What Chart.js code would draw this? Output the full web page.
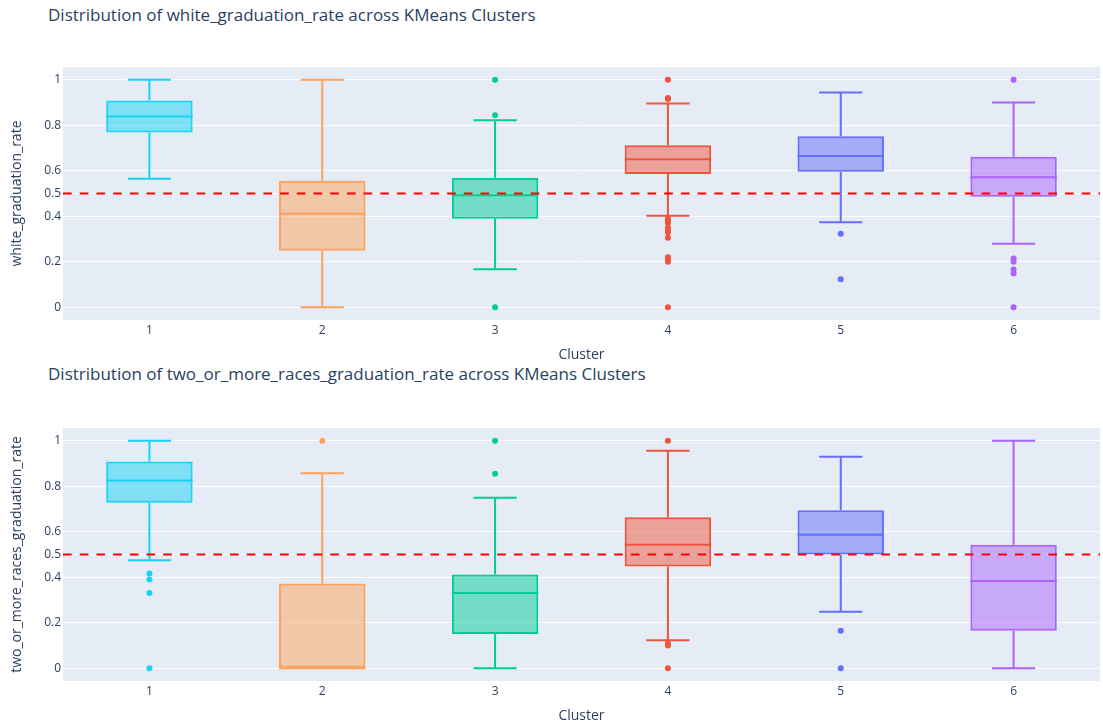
<!DOCTYPE html>
<html>
<head>
<meta charset="utf-8">
<script src="https://cdn.jsdelivr.net/npm/chart.js@4.4.1/dist/chart.umd.min.js"></script>
<style>
  html, body { margin: 0; padding: 0; background: #ffffff; }
  body { width: 1103px; height: 722px; position: relative; overflow: hidden; font-family: "Open Sans", "DejaVu Sans", sans-serif; }
  .title { position: absolute; left: 48px; font-size: 17px; line-height: 20px; color: #2a3f5f; white-space: nowrap; }
  .wrap { position: absolute; left: 0; width: 1103px; height: 361px; }
</style>
</head>
<body>
<div class="title" style="top:5px;">Distribution of white_graduation_rate across KMeans Clusters</div>
<div class="title" style="top:364px;">Distribution of two_or_more_races_graduation_rate across KMeans Clusters</div>
<div class="wrap" style="top:0px;"><canvas id="c1" width="1103" height="361"></canvas></div>
<div class="wrap" style="top:361px;"><canvas id="c2" width="1103" height="361"></canvas></div>
<script>
// ---------- data ----------
const categories = ['1', '2', '3', '4', '5', '6'];
const yTickValues = [0, 0.2, 0.4, 0.5, 0.6, 0.8, 1];
const referenceLine = 0.5;
const clusterColors = ['#19d3f3', '#FFA15A', '#00cc96', '#EF553B', '#636efa', '#ab63fa'];

// white_graduation_rate
const whiteLower  = [0.565, 0.000, 0.167, 0.402, 0.374, 0.279];
const whiteQ1     = [0.768, 0.248, 0.389, 0.586, 0.596, 0.486];
const whiteMedian = [0.838, 0.411, 0.492, 0.650, 0.665, 0.571];
const whiteQ3     = [0.909, 0.556, 0.568, 0.712, 0.752, 0.662];
const whiteUpper  = [1.000, 1.000, 0.822, 0.896, 0.944, 0.900];
const whiteOutliers = [
  [],
  [],
  [1, 0.844, 0],
  [1, 0.92, 0.915, 0.39, 0.38, 0.37, 0.35, 0.34, 0.33, 0.305, 0.22, 0.21, 0.2, 0],
  [0.323, 0.123],
  [1, 0.214, 0.2, 0.166, 0.148, 0]
];

// two_or_more_races_graduation_rate
const multiLower  = [0.475, 0.000, 0.000, 0.123, 0.248, 0.000];
const multiQ1     = [0.727, 0.000, 0.151, 0.447, 0.500, 0.165];
const multiMedian = [0.825, 0.000, 0.331, 0.543, 0.587, 0.383];
const multiQ3     = [0.909, 0.372, 0.412, 0.664, 0.695, 0.543];
const multiUpper  = [1.000, 0.857, 0.749, 0.956, 0.930, 1.000];
const multiOutliers = [
  [0.416, 0.39, 0.331, 0],
  [1],
  [1, 0.855],
  [1, 0.111, 0.1, 0],
  [0.165, 0],
  []
];

// ---------- helpers ----------
function hexA(hex, a) {
  const h = hex.replace('#', '');
  const r = parseInt(h.substr(0, 2), 16), g = parseInt(h.substr(2, 2), 16), b = parseInt(h.substr(4, 2), 16);
  return 'rgba(' + r + ',' + g + ',' + b + ',' + a + ')';
}

const plotBg = {
  id: 'plotBg',
  beforeDraw(chart) {
    const { ctx, chartArea: a } = chart;
    ctx.save();
    ctx.fillStyle = '#E5ECF6';
    ctx.fillRect(a.left, a.top, a.right - a.left, a.bottom - a.top);
    ctx.restore();
  }
};

const boxExtras = {
  id: 'boxExtras',
  beforeDatasetsDraw(chart, args, opts) {
    const ctx = chart.ctx, ys = chart.scales.y;
    const meta = chart.getDatasetMeta(0);
    ctx.save();
    ctx.lineWidth = 2;
    meta.data.forEach((bar, i) => {
      const x = bar.x, half = bar.width / 4;
      const col = opts.colors[i];
      ctx.strokeStyle = col;
      const pUp = ys.getPixelForValue(opts.upper[i]);
      const pLo = ys.getPixelForValue(opts.lower[i]);
      const pQ3 = ys.getPixelForValue(opts.q3[i]);
      const pQ1 = ys.getPixelForValue(opts.q1[i]);
      ctx.beginPath();
      if (opts.upper[i] > opts.q3[i]) {
        ctx.moveTo(x, pQ3); ctx.lineTo(x, pUp);
        ctx.moveTo(x - half, pUp); ctx.lineTo(x + half, pUp);
      }
      if (opts.lower[i] < opts.q1[i]) {
        ctx.moveTo(x, pQ1); ctx.lineTo(x, pLo);
        ctx.moveTo(x - half, pLo); ctx.lineTo(x + half, pLo);
      }
      ctx.stroke();
    });
    ctx.restore();
  },
  afterDatasetsDraw(chart, args, opts) {
    const ctx = chart.ctx, ys = chart.scales.y, a = chart.chartArea;
    const meta = chart.getDatasetMeta(0);
    ctx.save();
    ctx.lineWidth = 2;
    meta.data.forEach((bar, i) => {
      const pM = ys.getPixelForValue(opts.median[i]);
      ctx.strokeStyle = opts.colors[i];
      ctx.beginPath();
      ctx.moveTo(bar.x - bar.width / 2, pM);
      ctx.lineTo(bar.x + bar.width / 2, pM);
      ctx.stroke();
    });
    // reference line
    const pr = ys.getPixelForValue(opts.refLine);
    ctx.strokeStyle = '#ff0000';
    ctx.setLineDash([8.7, 8]);
    ctx.beginPath();
    ctx.moveTo(a.left, pr);
    ctx.lineTo(a.right, pr);
    ctx.stroke();
    ctx.restore();
  }
};

function makeChart(id, yTitle, lower, q1, median, q3, upper, outliers) {
  const datasets = [{
    type: 'bar',
    data: q1.map((v, i) => [v, q3[i]]),
    backgroundColor: clusterColors.map(c => hexA(c, 0.5)),
    borderColor: clusterColors,
    borderWidth: 2,
    borderSkipped: false,
    barPercentage: 1.0,
    categoryPercentage: 0.5,
    order: 2
  }];
  outliers.forEach((list, i) => {
    datasets.push({
      type: 'line',
      showLine: false,
      data: list.map(v => ({ x: categories[i], y: v })),
      pointRadius: 3,
      pointHoverRadius: 3,
      pointBackgroundColor: clusterColors[i],
      pointBorderColor: clusterColors[i],
      pointBorderWidth: 0,
      order: 1
    });
  });
  return new Chart(document.getElementById(id), {
    type: 'bar',
    data: { labels: categories, datasets },
    options: {
      responsive: false,
      animation: false,
      layout: { padding: { top: 67, right: 1, left: 0, bottom: 0 } },
      plugins: {
        legend: { display: false },
        tooltip: { enabled: false },
        boxExtras: { lower, q1, median, q3, upper, colors: clusterColors, refLine: referenceLine }
      },
      scales: {
        x: {
          type: 'category',
          grid: { display: false, drawTicks: false },
          border: { display: false },
          ticks: { color: '#2a3f5f', font: { family: 'Open Sans', size: 12 }, padding: 3 },
          title: { display: true, text: 'Cluster', color: '#2a3f5f', font: { family: 'Open Sans', size: 14 }, padding: { top: 0, bottom: -2 } },
          afterFit(s) { s.height = 41; }
        },
        y: {
          min: -0.056, max: 1.056,
          grid: { color: '#ffffff', lineWidth: 1, drawTicks: false },
          border: { display: false },
          afterBuildTicks(s) { s.ticks = yTickValues.map(v => ({ value: v })); },
          ticks: {
            color: '#2a3f5f', font: { family: 'Open Sans', size: 12 }, padding: 2,
            callback: v => String(v)
          },
          title: { display: true, text: yTitle, color: '#2a3f5f', font: { family: 'Open Sans', size: 14 }, padding: { top: 9, bottom: 0 } },
          afterFit(s) { s.width = 63; }
        }
      }
    },
    plugins: [plotBg, boxExtras]
  });
}

makeChart('c1', 'white_graduation_rate', whiteLower, whiteQ1, whiteMedian, whiteQ3, whiteUpper, whiteOutliers);
makeChart('c2', 'two_or_more_races_graduation_rate', multiLower, multiQ1, multiMedian, multiQ3, multiUpper, multiOutliers);
</script>
</body>
</html>
